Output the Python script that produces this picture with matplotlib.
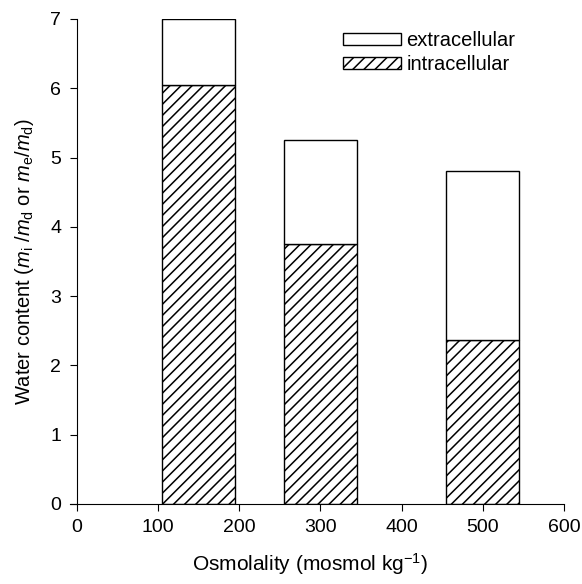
import matplotlib
matplotlib.use("Agg")
import matplotlib.pyplot as plt

plt.rcParams['font.family'] = ['Liberation Sans', 'DejaVu Sans']
plt.rcParams['mathtext.fontset'] = 'custom'
plt.rcParams['mathtext.rm'] = 'Liberation Sans'
plt.rcParams['mathtext.it'] = 'Liberation Sans:italic'
plt.rcParams['hatch.linewidth'] = 1.1

osmolality = [150, 300, 500]
intracellular = [6.05, 3.75, 2.37]
total = [7.0, 5.25, 4.8]
extracellular = [t - i for t, i in zip(total, intracellular)]

fig = plt.figure(figsize=(5.82, 5.84), dpi=100)
ax = fig.add_axes([70 / 582, 0.137, 494 / 582, 485 / 584])

ax.bar(osmolality, intracellular, width=90, color='white', edgecolor='black',
       hatch='///', linewidth=1.0, label='intracellular')
ax.bar(osmolality, extracellular, bottom=intracellular, width=90, color='white',
       edgecolor='black', linewidth=1.0, label='extracellular')

ax.set_xlim(-8, 600)
ax.set_ylim(0, 7)
ax.spines['left'].set_position(('data', 0))
ax.spines['top'].set_visible(False)
ax.spines['right'].set_visible(False)
ax.set_xticks(range(0, 601, 100))
ax.set_yticks(range(0, 8))
ax.tick_params(direction='out', length=5, labelsize=14, pad=6)
ax.set_xlabel('Osmolality (mosmol kg$^{-1}$)', fontsize=15)
ax.xaxis.set_label_coords((310 - 70) / 494, -0.098)
ax.set_ylabel('Water content ($m_\\mathrm{i}$ /$m_\\mathrm{d}$ or $m_\\mathrm{e}$/$m_\\mathrm{d}$)',
              fontsize=14.5, labelpad=10)

h, l = ax.get_legend_handles_labels()
ax.legend(h[::-1], l[::-1], loc='upper left', bbox_to_anchor=(0.553, 0.975),
          frameon=False, fontsize=14.5, handlelength=2.85, handleheight=0.5,
          handletextpad=0.3, labelspacing=0.25, borderpad=0, borderaxespad=0)

fig.savefig('out.png', dpi=100)
